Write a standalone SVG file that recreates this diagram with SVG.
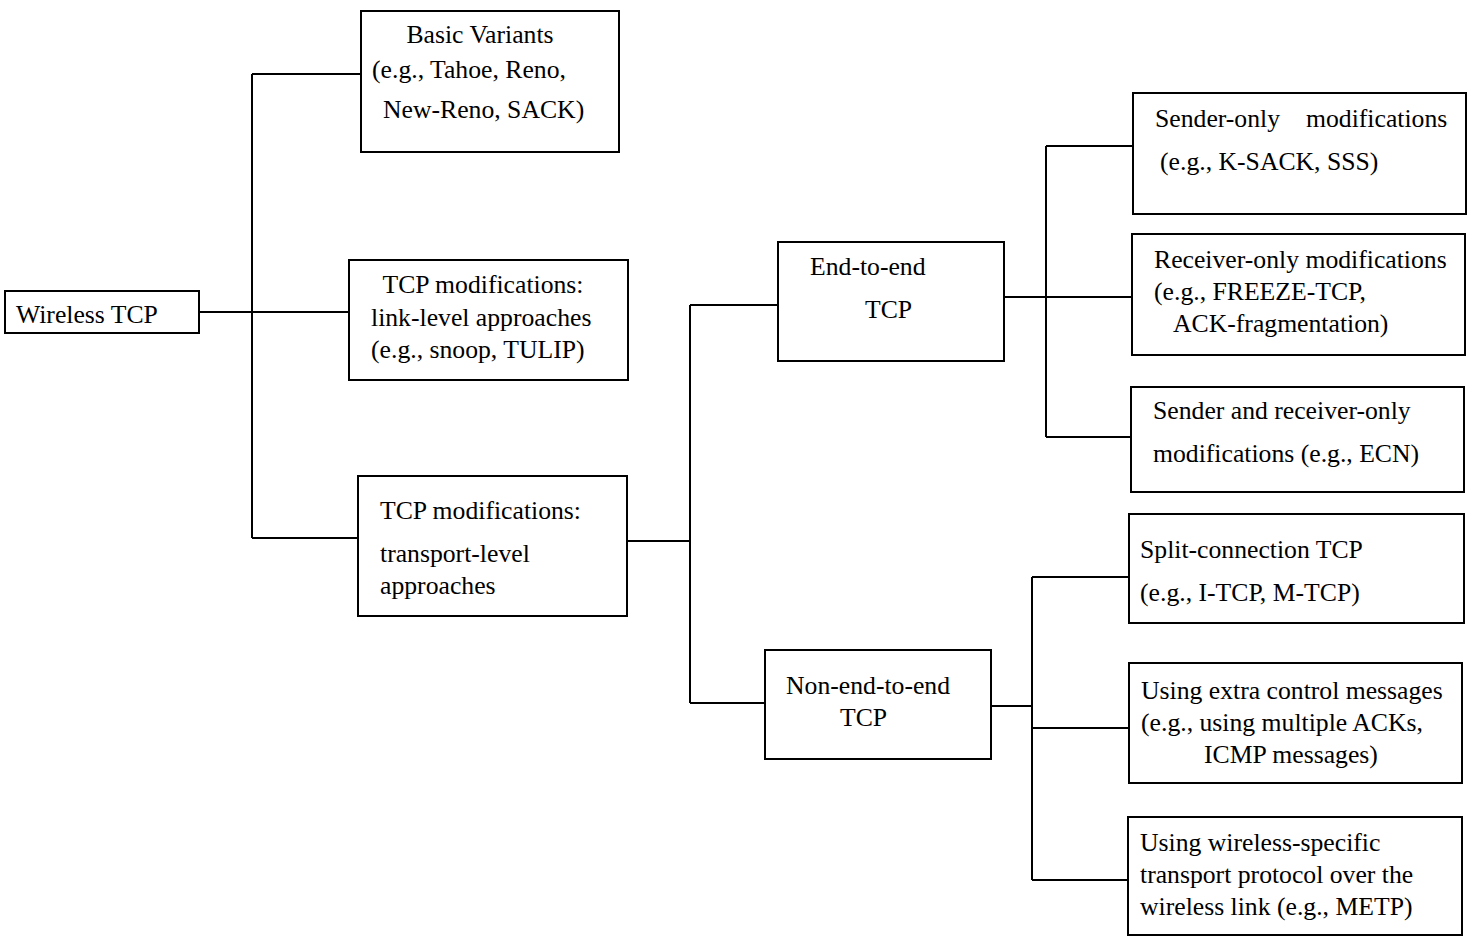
<svg xmlns="http://www.w3.org/2000/svg" width="1473" height="937" viewBox="0 0 1473 937">
<style>
.box{fill:#fff;stroke:#000;stroke-width:2}
.ln{fill:none;stroke:#000;stroke-width:2}
text{font-family:"Liberation Serif","Times New Roman",serif;font-size:25.7px;fill:#000}
.c{text-anchor:middle}
</style>
<rect width="1473" height="937" fill="#fff"/>
<g id="connectors">
<path class="ln" d="M199 312H349M252 74V538M252 74H361M252 538H358"/>
<path class="ln" d="M627 541H690M690 305V703M690 305H778M690 703H765"/>
<path class="ln" d="M1004 297H1132M1046 146V437M1046 146H1133M1046 437H1131"/>
<path class="ln" d="M991 706H1032M1032 577V880M1032 577H1129M1032 728H1129M1032 880H1128"/>
</g>
<g id="wireless-tcp"><rect class="box" x="5" y="291" width="194" height="42"/><text x="16" y="323">Wireless TCP</text></g>
<g id="basic-variants"><rect class="box" x="361" y="11" width="258" height="141"/>
<text x="480" y="43" class="c">Basic Variants</text>
<text x="372" y="78">(e.g., Tahoe, Reno,</text>
<text x="383" y="118">New-Reno, SACK)</text></g>
<g id="link-level"><rect class="box" x="349" y="260" width="279" height="120"/>
<text x="483" y="293" class="c">TCP modifications:</text>
<text x="371" y="326">link-level approaches</text>
<text x="371" y="358">(e.g., snoop, TULIP)</text></g>
<g id="transport-level"><rect class="box" x="358" y="476" width="269" height="140"/>
<text x="380" y="519">TCP modifications:</text>
<text x="380" y="562">transport-level</text>
<text x="380" y="594">approaches</text></g>
<g id="end-to-end"><rect class="box" x="778" y="242" width="226" height="119"/>
<text x="810" y="275">End-to-end</text>
<text x="865" y="318">TCP</text></g>
<g id="non-end-to-end"><rect class="box" x="765" y="650" width="226" height="109"/>
<text x="786" y="694">Non-end-to-end</text>
<text x="840" y="726">TCP</text></g>
<g id="sender-only"><rect class="box" x="1133" y="93" width="333" height="121"/>
<text x="1155" y="127">Sender-only<tspan x="1306">modifications</tspan></text>
<text x="1160" y="170">(e.g., K-SACK, SSS)</text></g>
<g id="receiver-only"><rect class="box" x="1132" y="234" width="333" height="121"/>
<text x="1154" y="268">Receiver-only modifications</text>
<text x="1154" y="300">(e.g., FREEZE-TCP,</text>
<text x="1173" y="332">ACK-fragmentation)</text></g>
<g id="sender-receiver"><rect class="box" x="1131" y="387" width="333" height="105"/>
<text x="1153" y="419">Sender and receiver-only</text>
<text x="1153" y="462">modifications (e.g., ECN)</text></g>
<g id="split-connection"><rect class="box" x="1129" y="514" width="335" height="109"/>
<text x="1140" y="558">Split-connection TCP</text>
<text x="1140" y="601">(e.g., I-TCP, M-TCP)</text></g>
<g id="extra-control"><rect class="box" x="1129" y="663" width="333" height="120"/>
<text x="1141" y="699">Using extra control messages</text>
<text x="1141" y="731">(e.g., using multiple ACKs,</text>
<text x="1204" y="763">ICMP messages)</text></g>
<g id="wireless-specific"><rect class="box" x="1128" y="817" width="334" height="118"/>
<text x="1140" y="851">Using wireless-specific</text>
<text x="1140" y="883">transport protocol over the</text>
<text x="1140" y="915">wireless link (e.g., METP)</text></g>
</svg>
